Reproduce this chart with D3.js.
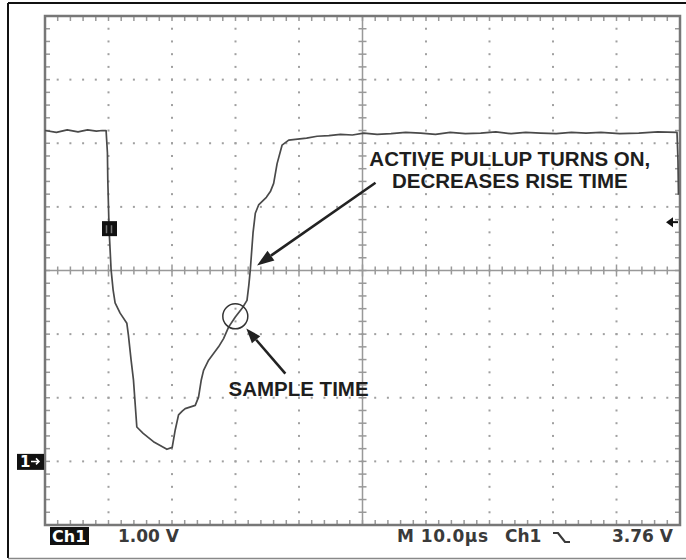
<!DOCTYPE html>
<html>
<head>
<meta charset="utf-8">
<script src="https://cdn.jsdelivr.net/npm/d3@7"></script>
<style>
    body { margin: 0; background: #fff; }
    svg { display: block; }
</style>
</head>
<body>
<div id="scope"></div>
<script>
// trace, time in µs (trigger at 0), level in V
var timeUs = [-10, -8.2, -6.5, -4.8, -3.3, -1.9, -1, -0.38, -0.17, -0.11, 0.09, 0.41, 0.73, 1.04, 1.83, 2.89, 3.14, 3.56, 3.93,
    4.46, 5.46, 7.08, 9.2, 10.03, 10.5, 11.03, 11.61, 12.08, 13.66, 14.18, 14.61, 14.97, 15.76, 17.33, 18.12,
    18.91, 19.97, 21.07, 21.81, 22.1, 22.33, 22.76, 23.12, 23.64, 24.86, 25.49, 26.01, 26.55, 27.33, 28.38,
    29.43, 31.2, 32.85, 34.7, 36.53, 38.4, 40.2, 42.3, 44.5, 46.8, 49.15, 51.5, 53.8, 56.2, 58.61, 61, 63.4, 65.7, 68.06,
    70.5, 72.9, 75.2, 77.54, 80.5, 83.5, 86.5, 89.53, 89.68, 89.76]
var voltsV = [5.2, 5.17, 5.21, 5.18, 5.21, 5.19, 5.2, 5.2, 4.85, 4.42, 3.65, 3.01, 2.69, 2.49, 2.33, 2.17, 1.98, 1.59, 1.28,
    0.54, 0.44, 0.31, 0.19, 0.22, 0.49, 0.73, 0.79, 0.83, 0.88, 1.01, 1.28, 1.43, 1.59, 1.8, 1.93,
    2.11, 2.27, 2.41, 2.53, 2.77, 3.01, 3.59, 3.9, 4.03, 4.15, 4.24, 4.37, 4.68, 4.97, 5.05,
    5.06, 5.08, 5.11, 5.12, 5.14, 5.13, 5.16, 5.14, 5.15, 5.17, 5.16, 5.14, 5.17, 5.15, 5.16, 5.18, 5.15, 5.17, 5.16,
    5.15, 5.17, 5.16, 5.17, 5.15, 5.16, 5.18, 5.17, 4.73, 4.19]

// screen divisions
var timeDomain = [-10, 90]
var voltDomain = [-1, 7]
var timePerDiv = 10
var voltPerDiv = 1
var minorPerDiv = 5

var triggerLevel = 3.76
var bottomLabels = ['1.00 V', 'M 10.0\u00b5s', 'Ch1', '3.76 V']

// notes: [t, v] in data units
var pullupLines = ['ACTIVE PULLUP TURNS ON,', 'DECREASES RISE TIME']
var pullupText = [63.2, 4.64]
var pullupArrow = [[42.05, 4.38], [23.39, 3.08]]
var sampleLabel = 'SAMPLE TIME'
var sampleText = [18.9, 1.03]
var sampleArrow = [[27.85, 1.38], [21.7, 2.09]]
var sampleCircle = [19.97, 2.28]

var _width = 686
var _height = 560
var _left = 45, _right = 680, _top = 16, _bottom = 525

var svg = d3.select('#scope')
    .append('svg')
    .attr('width', _width)
    .attr('height', _height)

var x = d3.scaleLinear().domain(timeDomain).range([_left, _right])
var y = d3.scaleLinear().domain(voltDomain).range([_bottom, _top])

// outer frame
svg.append('line')
    .attr('x1', 8).attr('x2', _width).attr('y1', 3).attr('y2', 3)
    .attr('stroke', '#111').attr('stroke-width', 2)
svg.append('line')
    .attr('x1', 8).attr('x2', 8).attr('y1', 3).attr('y2', 558)
    .attr('stroke', '#111').attr('stroke-width', 2)
svg.append('line')
    .attr('x1', 8).attr('x2', _width).attr('y1', 558.5).attr('y2', 558.5)
    .attr('stroke', '#888').attr('stroke-width', 1.5)

var gridG = svg.append('g').attr('class', 'grid')

var majorT = d3.range(timeDomain[0], timeDomain[1] + 0.01, timePerDiv)
var majorV = d3.range(voltDomain[0], voltDomain[1] + 0.01, voltPerDiv)
var minorT = d3.range(timeDomain[0], timeDomain[1] + 0.01, timePerDiv / minorPerDiv)
var minorV = d3.range(voltDomain[0], voltDomain[1] + 0.001, voltPerDiv / minorPerDiv)

var midT = (timeDomain[0] + timeDomain[1]) / 2
var midV = (voltDomain[0] + voltDomain[1]) / 2

// dotted grid
var dots = []
majorT.slice(1, -1).forEach(function (t) {
    if (t === midT) return
    minorV.forEach(function (v) { dots.push([t, v]) })
})
majorV.slice(1, -1).forEach(function (v) {
    if (v === midV) return
    minorT.forEach(function (t) { dots.push([t, v]) })
})

gridG.selectAll('rect.dot')
    .data(dots)
    .enter()
    .append('rect')
    .attr('class', 'dot')
    .attr('x', d => x(d[0]) - 1)
    .attr('y', d => y(d[1]) - 1)
    .attr('width', 2)
    .attr('height', 2)
    .attr('fill', '#a0a0a0')

// centre cross
gridG.append('line')
    .attr('x1', x(timeDomain[0])).attr('x2', x(timeDomain[1]))
    .attr('y1', y(midV)).attr('y2', y(midV))
    .attr('stroke', '#999').attr('stroke-width', 1.5)
gridG.append('line')
    .attr('x1', x(midT)).attr('x2', x(midT))
    .attr('y1', y(voltDomain[0])).attr('y2', y(voltDomain[1]))
    .attr('stroke', '#999').attr('stroke-width', 1.5)

gridG.selectAll('line.ctick-x')
    .data(minorT)
    .enter()
    .append('line')
    .attr('class', 'ctick-x')
    .attr('x1', d => x(d)).attr('x2', d => x(d))
    .attr('y1', d => y(midV) - (d % timePerDiv === 0 ? 6 : 4))
    .attr('y2', d => y(midV) + (d % timePerDiv === 0 ? 6 : 4))
    .attr('stroke', '#999').attr('stroke-width', 1.5)

gridG.selectAll('line.ctick-y')
    .data(minorV)
    .enter()
    .append('line')
    .attr('class', 'ctick-y')
    .attr('x1', d => x(midT) - 4).attr('x2', d => x(midT) + 4)
    .attr('y1', d => y(d)).attr('y2', d => y(d))
    .attr('stroke', '#999').attr('stroke-width', 1.5)

// border ticks
gridG.selectAll('line.btick-x')
    .data(minorT)
    .enter()
    .append('line')
    .attr('class', 'btick-x')
    .attr('x1', d => x(d)).attr('x2', d => x(d))
    .attr('y1', _top).attr('y2', _top + 5)
    .attr('stroke', '#999').attr('stroke-width', 1.5)
gridG.selectAll('line.btick-xb')
    .data(minorT)
    .enter()
    .append('line')
    .attr('class', 'btick-xb')
    .attr('x1', d => x(d)).attr('x2', d => x(d))
    .attr('y1', _bottom).attr('y2', _bottom - 5)
    .attr('stroke', '#999').attr('stroke-width', 1.5)
gridG.selectAll('line.btick-y')
    .data(minorV)
    .enter()
    .append('line')
    .attr('class', 'btick-y')
    .attr('x1', _left).attr('x2', _left + 5)
    .attr('y1', d => y(d)).attr('y2', d => y(d))
    .attr('stroke', '#999').attr('stroke-width', 1.5)
gridG.selectAll('line.btick-yr')
    .data(minorV)
    .enter()
    .append('line')
    .attr('class', 'btick-yr')
    .attr('x1', _right).attr('x2', _right - 5)
    .attr('y1', d => y(d)).attr('y2', d => y(d))
    .attr('stroke', '#999').attr('stroke-width', 1.5)

// plot border
gridG.append('rect')
    .attr('x', _left).attr('y', _top)
    .attr('width', _right - _left).attr('height', _bottom - _top)
    .attr('fill', 'none')
    .attr('stroke', '#777').attr('stroke-width', 2.5)

// trace
var trace = d3.line()
    .x((d, i) => x(timeUs[i]))
    .y(d => y(d))

svg.append('path')
    .datum(voltsV)
    .attr('d', trace)
    .attr('fill', 'none')
    .attr('stroke', '#4a4a4a')
    .attr('stroke-width', 1.7)
    .attr('stroke-linejoin', 'round')

// trigger marker on trace
var markG = svg.append('g').attr('class', 'markers')
markG.append('rect')
    .attr('x', x(0) - 6.5).attr('y', y(triggerLevel) - 1)
    .attr('width', 15).attr('height', 15)
    .attr('fill', '#111')
markG.append('path')
    .attr('d', 'M' + (x(0) - 2) + ',' + (y(triggerLevel) + 3) + 'v8M' + (x(0) + 3) + ',' + (y(triggerLevel) + 3) + 'v8')
    .attr('stroke', '#777').attr('stroke-width', 1.5)

// trigger level arrow on the right
markG.append('path')
    .attr('d', 'M' + (_right - 14) + ',' + y(triggerLevel) + 'l7,-5v10z')
    .attr('fill', '#111')
markG.append('line')
    .attr('x1', _right - 8).attr('x2', _right - 2)
    .attr('y1', y(triggerLevel)).attr('y2', y(triggerLevel))
    .attr('stroke', '#111').attr('stroke-width', 2)

// ground marker
markG.append('rect')
    .attr('x', 17).attr('y', y(0) - 7.5)
    .attr('width', 27).attr('height', 16)
    .attr('fill', '#111')
markG.append('text')
    .attr('x', 20).attr('y', y(0) + 6)
    .attr('font-family', 'DejaVu Sans')
    .attr('font-weight', 'bold')
    .attr('font-size', 15)
    .attr('fill', '#fff')
    .text('1')
markG.append('path')
    .attr('d', 'M31,' + y(0) + 'h8M36,' + (y(0) - 3) + 'l3,3l-3,3')
    .attr('fill', 'none')
    .attr('stroke', '#fff').attr('stroke-width', 1.5)

// status line
var statusG = svg.append('g')
    .attr('font-family', 'DejaVu Sans')
    .attr('font-weight', 'bold')
    .attr('font-size', 17)
    .attr('fill', '#3a3a3a')

statusG.append('rect')
    .attr('x', 50).attr('y', 527)
    .attr('width', 39).attr('height', 18)
    .attr('fill', '#111')
statusG.append('text')
    .attr('x', 52).attr('y', 542)
    .attr('fill', '#fff')
    .attr('font-size', 16)
    .text('Ch1')
statusG.append('text').attr('x', 118).attr('y', 542).text(bottomLabels[0])
statusG.append('text').attr('x', 397).attr('y', 542).attr('textLength', 91).text(bottomLabels[1])
statusG.append('text').attr('x', 505).attr('y', 542).text(bottomLabels[2])
statusG.append('path')
    .attr('d', 'M553,533h5l7,9h5')
    .attr('fill', 'none')
    .attr('stroke', '#3a3a3a').attr('stroke-width', 2.2)
statusG.append('text')
    .attr('x', 673).attr('y', 542)
    .attr('text-anchor', 'end')
    .text(bottomLabels[3])

// annotations
var noteG = svg.append('g')
    .attr('font-family', 'Liberation Sans')
    .attr('font-weight', 'bold')
    .attr('font-size', 20.5)
    .attr('fill', '#1e1e1e')

noteG.selectAll('text.pullup')
    .data(pullupLines)
    .enter()
    .append('text')
    .attr('class', 'pullup')
    .attr('x', x(pullupText[0]))
    .attr('y', (d, i) => y(pullupText[1]) + i * 22.3)
    .attr('text-anchor', 'middle')
    .text(d => d)

noteG.append('text')
    .attr('x', x(sampleText[0]))
    .attr('y', y(sampleText[1]))
    .text(sampleLabel)

noteG.append('circle')
    .attr('cx', x(sampleCircle[0]))
    .attr('cy', y(sampleCircle[1]))
    .attr('r', 12.5)
    .attr('fill', 'none')
    .attr('stroke', '#333').attr('stroke-width', 1.5)

function drawArrow(g, pts, headLen, headW) {
    var x0 = x(pts[0][0]), y0 = y(pts[0][1])
    var x1 = x(pts[1][0]), y1 = y(pts[1][1])
    var a = Math.atan2(y1 - y0, x1 - x0)
    var bx = x1 - headLen * Math.cos(a), by = y1 - headLen * Math.sin(a)
    g.append('line')
        .attr('x1', x0).attr('y1', y0)
        .attr('x2', bx).attr('y2', by)
        .attr('stroke', '#222').attr('stroke-width', 2.6)
    var px = -Math.sin(a) * headW / 2, py = Math.cos(a) * headW / 2
    g.append('path')
        .attr('d', 'M' + x1 + ',' + y1 + 'L' + (bx + px) + ',' + (by + py) + 'L' + (bx - px) + ',' + (by - py) + 'Z')
        .attr('fill', '#222')
}

drawArrow(noteG, pullupArrow, 17, 12)
drawArrow(noteG, sampleArrow, 15, 11)
</script>
</body>
</html>
